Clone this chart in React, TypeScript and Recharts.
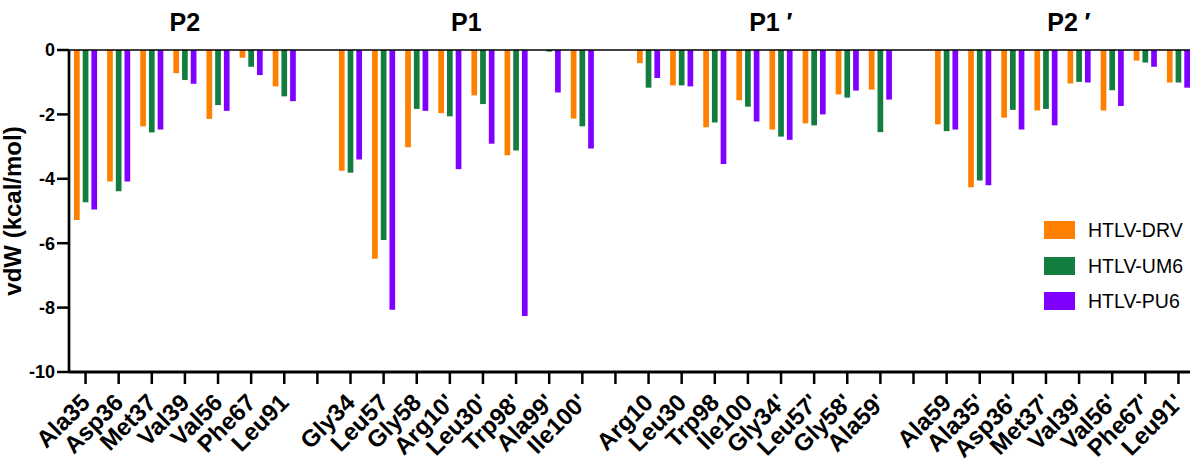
import React from 'react';
import { BarChart, Bar, XAxis, YAxis, ReferenceLine, ReferenceArea, Legend } from 'recharts';

const categories = [
  'Ala35', 'Asp36', 'Met37', 'Val39', 'Val56', 'Phe67', 'Leu91',
  'gap1',
  'Gly34', 'Leu57', 'Gly58', "Arg10'", "Leu30'", "Trp98'", "Ala99'", "Ile100'",
  'gap2',
  'Arg10', 'Leu30', 'Trp98', 'Ile100', "Gly34'", "Leu57'", "Gly58'", "Ala59'",
  'gap3',
  'Ala59', "Ala35'", "Asp36'", "Met37'", "Val39'", "Val56'", "Phe67'", "Leu91'",
];

const drvValues = [
  -5.28, -4.08, -2.37, -0.72, -2.14, -0.24, -1.13,
  null,
  -3.75, -6.48, -3.02, -1.96, -1.41, -3.27, 0, -2.13,
  null,
  -0.41, -1.10, -2.40, -1.56, -2.47, -2.28, -1.38, -1.23,
  null,
  -2.31, -4.26, -2.10, -1.88, -1.04, -1.88, -0.33, -1.01,
];

const um6Values = [
  -4.73, -4.39, -2.56, -0.93, -1.71, -0.52, -1.44,
  null,
  -3.81, -5.90, -1.83, -2.06, -1.68, -3.12, -0.05, -2.37,
  null,
  -1.17, -1.10, -2.25, -1.76, -2.69, -2.34, -1.48, -2.55,
  null,
  -2.52, -4.05, -1.86, -1.83, -0.99, -1.25, -0.39, -1.01,
];

const pu6Values = [
  -4.95, -4.08, -2.47, -1.05, -1.89, -0.78, -1.59,
  null,
  -3.40, -8.07, -1.89, -3.70, -2.91, -8.26, -1.32, -3.06,
  null,
  -0.87, -1.13, -3.54, -2.22, -2.79, -2.00, -1.26, -1.54,
  null,
  -2.47, -4.20, -2.47, -2.34, -1.01, -1.74, -0.52, -1.17,
];

const yTicks = [0, -2, -4, -6, -8, -10];

const groupTitles = ['P2', 'P1', 'P1′', 'P2′'];
const groupFirst = ['Ala35', 'Gly34', 'Arg10', 'Ala59'];
const groupLast = ['Leu91', "Ile100'", "Ala59'", "Leu91'"];

const seriesKeys = ['drv', 'um6', 'pu6'];
const seriesNames = ['HTLV-DRV', 'HTLV-UM6', 'HTLV-PU6'];
const seriesColors = ['#FF8000', '#127D3F', '#8000FF'];

const data = categories.map((c, i) => ({
  name: c,
  drv: drvValues[i],
  um6: um6Values[i],
  pu6: pu6Values[i],
}));

const FONT = "'Liberation Sans', Arial, Helvetica, sans-serif";

const XTick = (props: any) => {
  const { x, y, payload } = props;
  const v = String(payload.value);
  if (v.startsWith('gap')) return <g />;
  const ax = x + 6;
  const ay = y + 18;
  return (
    <text
      x={ax}
      y={ay}
      transform={`rotate(-45, ${ax}, ${ay})`}
      textAnchor="end"
      fontFamily={FONT}
      fontWeight="bold"
      fontSize={24}
      fill="#000"
    >
      {v}
    </text>
  );
};

const TitleLabel = (props: any) => {
  const { viewBox, value } = props;
  if (!viewBox) return null;
  const cx = viewBox.x + viewBox.width / 2;
  const y = viewBox.y - 19;
  const text = String(value);
  const hasPrime = text.includes('′');
  const base = text.replace('′', '');
  return (
    <g>
      <text x={cx} y={y} textAnchor="middle" fontFamily={FONT} fontWeight="bold" fontSize={25} fill="#000">
        {base}
      </text>
      {hasPrime && (
        <text x={cx + 22} y={y} textAnchor="start" fontFamily={FONT} fontWeight="bold" fontSize={25} fill="#000">
          ′
        </text>
      )}
    </g>
  );
};

const LegendContent = () => (
  <div style={{ fontFamily: FONT }}>
    {seriesNames.map((n, i) => (
      <div key={n} style={{ display: 'flex', alignItems: 'center', height: 18, marginBottom: 17.5 }}>
        <div style={{ width: 31, height: 18, background: seriesColors[i] }} />
        <span style={{ marginLeft: 13, fontSize: 19.5, lineHeight: '18px', color: '#000' }}>{n}</span>
      </div>
    ))}
  </div>
);

export default function App() {
  return (
    <div
      style={{
        position: 'fixed',
        left: 0,
        top: 0,
        width: 1190,
        height: 466,
        overflow: 'hidden',
        background: '#fff',
      }}
    >
      <BarChart
        width={1200}
        height={466}
        data={data}
        margin={{ top: 50, right: 5, bottom: 0, left: 0 }}
        barGap={3}
      >
        <XAxis
          dataKey="name"
          interval={0}
          height={94}
          tickSize={12}
          axisLine={{ stroke: '#000', strokeWidth: 3 }}
          tickLine={{ stroke: '#000', strokeWidth: 2.5 }}
          tick={<XTick />}
        />
        <YAxis
          width={69}
          domain={[-10, 0]}
          ticks={yTicks}
          interval={0}
          tickSize={12}
          axisLine={{ stroke: '#000', strokeWidth: 2.7 }}
          tickLine={{ stroke: '#000', strokeWidth: 2.5 }}
          tick={{ fill: '#000', fontSize: 18, fontWeight: 'bold', fontFamily: FONT }}
          label={{
            value: 'vdW (kcal/mol)',
            angle: -90,
            position: 'insideLeft',
            offset: 12,
            style: { textAnchor: 'middle', fontFamily: FONT, fontWeight: 'bold', fontSize: 24, fill: '#000' },
          }}
        />
        {groupTitles.map((t, i) => (
          <ReferenceArea
            key={t}
            x1={groupFirst[i]}
            x2={groupLast[i]}
            fill="none"
            fillOpacity={0}
            stroke="none"
            label={{ value: t, content: TitleLabel }}
          />
        ))}
        {seriesKeys.map((k, i) => (
          <Bar
            key={k}
            dataKey={k}
            name={seriesNames[i]}
            fill={seriesColors[i]}
            barSize={5.7}
            isAnimationActive={false}
          />
        ))}
        <ReferenceLine y={0} stroke="#000" strokeWidth={1.5} />
        <Legend
          layout="vertical"
          align="center"
          verticalAlign="middle"
          wrapperStyle={{ left: 1044, top: 221, width: 150 }}
          content={<LegendContent />}
        />
      </BarChart>
    </div>
  );
}
